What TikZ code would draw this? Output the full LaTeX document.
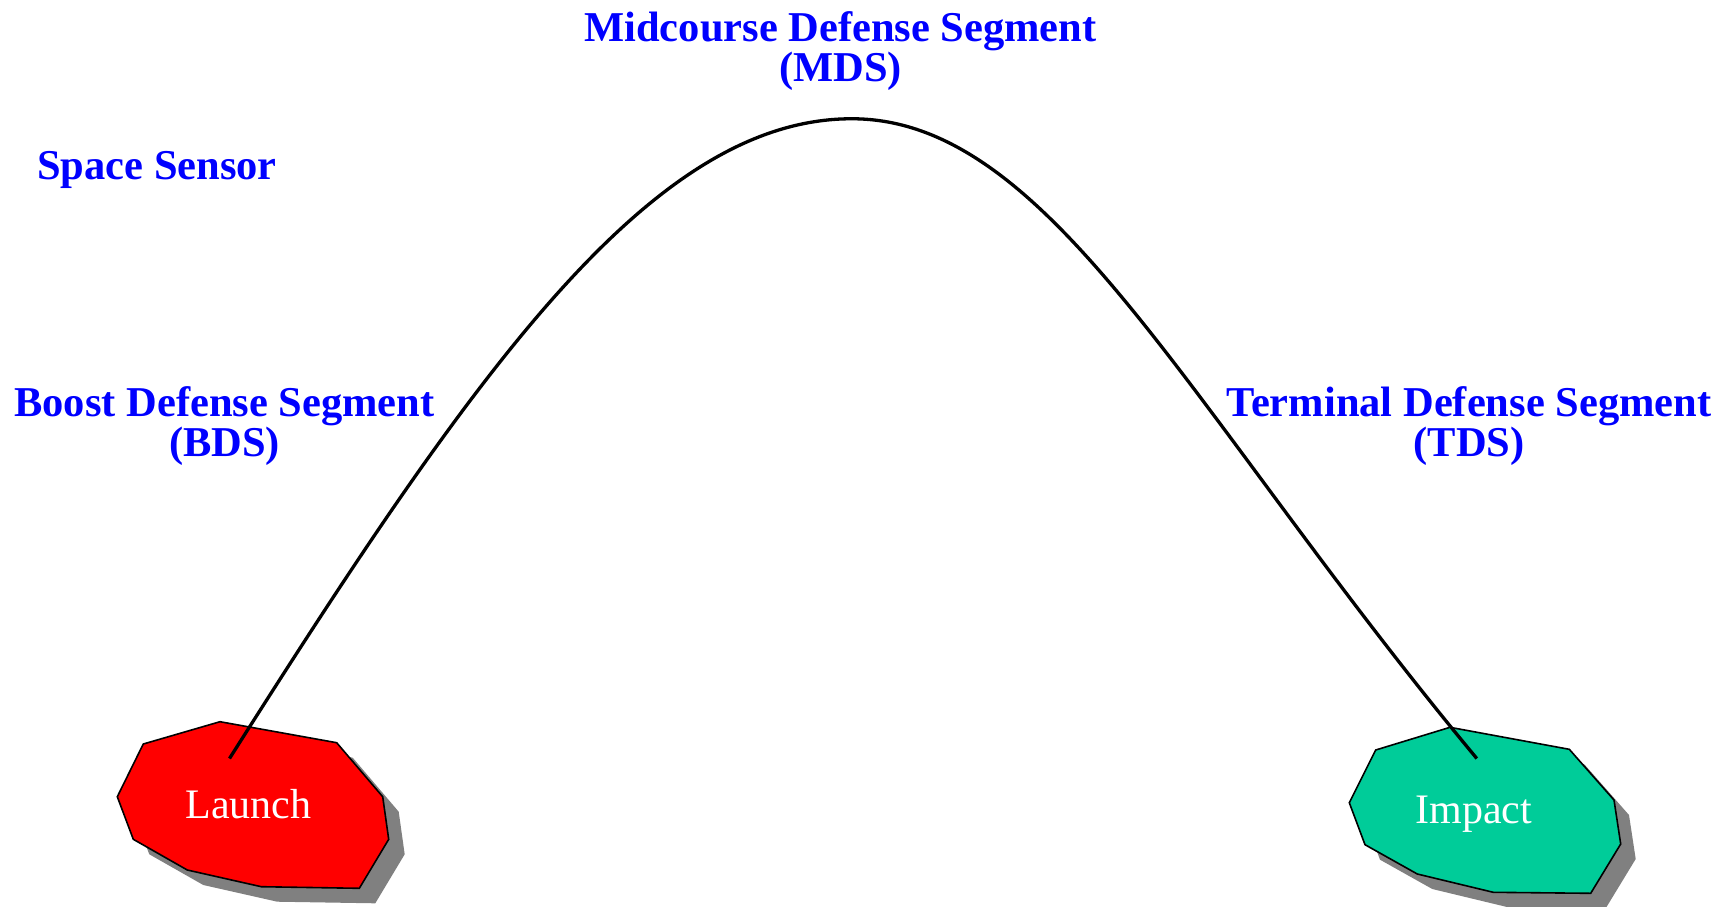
\documentclass[tikz,border=0pt]{standalone}
\usepackage{fontspec}
\setmainfont{Liberation Serif}
\definecolor{lblue}{RGB}{0,0,255}
\definecolor{impactgreen}{RGB}{0,204,153}
\definecolor{shadowgray}{RGB}{128,128,128}
\begin{document}
\begin{tikzpicture}[x=1pt,y=-1pt,
  seglabel/.style={inner sep=0pt,anchor=base,text=lblue,font=\fontsize{42.5}{40}\selectfont\bfseries},
  sitelabel/.style={inner sep=0pt,anchor=base,text=white,font=\fontsize{42}{44}\selectfont},
  blob/.style={draw=black,line width=1.6pt,line join=miter},
  blobshadow/.style={fill=shadowgray,draw=none},
  traj/.style={draw=black,line width=3.3pt}]
\useasboundingbox (0,0) rectangle (1733,906);
\fill[white] (0,0) rectangle (1733,906);
% Launch site
\fill[blobshadow,shift={(16,15)}] (220,721.7) -- (336.7,742.7) -- (382.7,796.7) -- (388.7,839.3) -- (359.3,888.3) -- (261.3,886.7) -- (187.3,870) -- (133.3,839.3) -- (117.3,796.7) -- (143.3,744) -- cycle;
\path[blob,fill=red] (220,721.7) -- (336.7,742.7) -- (382.7,796.7) -- (388.7,839.3) -- (359.3,888.3) -- (261.3,886.7) -- (187.3,870) -- (133.3,839.3) -- (117.3,796.7) -- (143.3,744) -- cycle;
\node[sitelabel] (launch) at (248.5,818) {Launch};
% Impact site
\fill[blobshadow,shift={(15,15)}] (1450,727.3) -- (1569.3,749.3) -- (1614,800) -- (1620.7,844) -- (1590.7,893.3) -- (1493.3,892.3) -- (1417.3,874) -- (1365,844.7) -- (1349.3,802.7) -- (1375.7,750) -- cycle;
\path[blob,fill=impactgreen] (1450,727.3) -- (1569.3,749.3) -- (1614,800) -- (1620.7,844) -- (1590.7,893.3) -- (1493.3,892.3) -- (1417.3,874) -- (1365,844.7) -- (1349.3,802.7) -- (1375.7,750) -- cycle;
\node[sitelabel] (impact) at (1473.7,823) {Impact};
% Labels
\node[seglabel] (mds1) at (840.5,41.7) {Midcourse Defense Segment};
\node[seglabel] (mds2) at (840.5,81) {(MDS)};
\node[seglabel,anchor=base west] (space) at (37,179.3) {Space Sensor};
\node[seglabel] (bds1) at (224.5,416.7) {Boost Defense Segment};
\node[seglabel] (bds2) at (224.5,456) {(BDS)};
\node[seglabel] (tds1) at (1469,416.7) {Terminal Defense Segment};
\node[seglabel] (tds2) at (1469,456) {(TDS)};
% Trajectory
\coordinate (lp) at (229.5,758.5);
\coordinate (apex) at (851.8,118.75);
\coordinate (ip) at (1476.8,758.5);
\draw[traj] (lp) .. controls (475.6,369.8) and (651.8,118.75) .. (apex)
  .. controls (1051.8,118.75) and (1188.8,412) .. (ip);
\end{tikzpicture}
\end{document}
